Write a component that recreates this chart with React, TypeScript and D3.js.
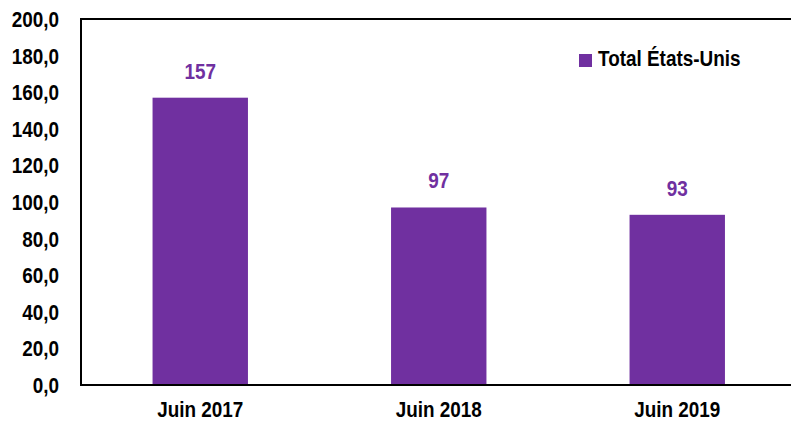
import { useRef, useEffect } from 'react';
import * as d3 from 'd3';

const categories = ['Juin 2017', 'Juin 2018', 'Juin 2019'];
const values = [157, 97, 93];
const seriesName = 'Total États-Unis';
const yTicks = [0, 20, 40, 60, 80, 100, 120, 140, 160, 180, 200];

const W = 791;
const H = 423;
const PURPLE = '#7030A0';
const FONT = '"Liberation Sans", Arial, sans-serif';
const SX = 0.86; // squeeze to mimic Arial Narrow

export default function App() {
  const svgRef = useRef<SVGSVGElement>(null);

  useEffect(() => {
    if (!svgRef.current) return;
    const svg = d3.select(svgRef.current);
    svg.selectAll('*').remove();

    const left = 81;
    const top = 19;
    const bottom = 385;

    const x = d3.scaleBand().domain(categories).range([left, 796.5]).paddingInner(0.6).paddingOuter(0.3);
    const y = d3.scaleLinear().domain([0, 200]).range([bottom, top]);

    svg.append('rect').attr('width', W).attr('height', H).attr('fill', '#fff');

    const label = (tx: number, ty: number, txt: string, anchor: string, color = '#000') =>
      svg.append('text')
        .attr('transform', `translate(${tx},${ty}) scale(${SX},1)`)
        .attr('text-anchor', anchor)
        .attr('font-family', FONT).attr('font-weight', 'bold').attr('font-size', 22)
        .attr('fill', color)
        .text(txt);

    // bars
    svg.selectAll('.bar').data(values).join('rect')
      .attr('class', 'bar')
      .attr('x', (_, i) => x(categories[i]) ?? 0)
      .attr('y', (d) => y(d))
      .attr('width', x.bandwidth())
      .attr('height', (d) => bottom - y(d))
      .attr('fill', PURPLE);

    // value labels
    values.forEach((v, i) => {
      label((x(categories[i]) ?? 0) + x.bandwidth() / 2, y(v) - 19, String(v), 'middle', PURPLE);
    });

    // frame: top, left, bottom
    svg.append('line').attr('x1', left).attr('x2', W).attr('y1', top).attr('y2', top)
      .attr('stroke', '#000').attr('stroke-width', 2);
    svg.append('line').attr('x1', left).attr('x2', left).attr('y1', top - 1).attr('y2', bottom + 1)
      .attr('stroke', '#000').attr('stroke-width', 2);
    svg.append('line').attr('x1', left).attr('x2', W).attr('y1', bottom).attr('y2', bottom)
      .attr('stroke', '#000').attr('stroke-width', 2);

    // y tick labels
    const fmt = (v: number) => d3.format('.1f')(v).replace('.', ',');
    yTicks.forEach((t) => label(59, y(t) + 8, fmt(t), 'end'));

    // x labels
    categories.forEach((c) => label((x(c) ?? 0) + x.bandwidth() / 2, 417, c, 'middle'));

    // legend
    svg.append('rect').attr('x', 579).attr('y', 54).attr('width', 13).attr('height', 13).attr('fill', PURPLE);
    label(598, 66, seriesName, 'start');
  }, []);

  return (
    <div style={{ position: 'absolute', left: 0, top: 0 }}>
      <svg ref={svgRef} width={W} height={H} style={{ display: 'block' }} />
    </div>
  );
}
